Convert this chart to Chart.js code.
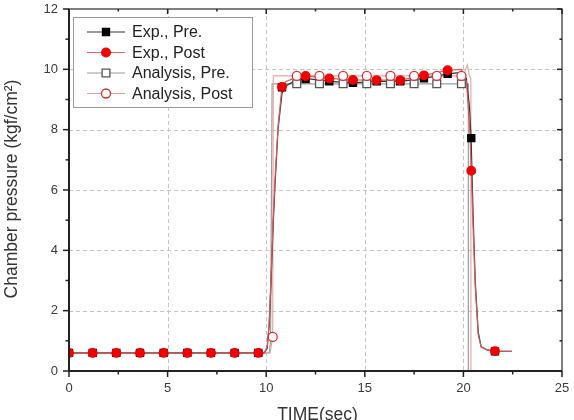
<!DOCTYPE html>
<html lang="en">
<head>
<meta charset="UTF-8">
<title>Chamber pressure</title>
<script src="https://cdn.jsdelivr.net/npm/chart.js"></script>
<style>
  html, body { margin: 0; padding: 0; background: #fff; }
  #wrap { width: 574px; height: 420px; position: relative; }
</style>
</head>
<body>
<div id="wrap"><canvas id="grafico" width="574" height="420"></canvas></div>
<script>
// ---- data ----
const xTicks = [0, 5, 10, 15, 20, 25]
const yTicks = [0, 2, 4, 6, 8, 10, 12]

// experiment, pre (black)
const expPreLineT = [0, 9.9, 10.05, 10.15, 10.25, 10.35, 10.45, 10.6, 10.8, 11.0, 11.4, 12.0, 13.2, 14.4, 15.6, 16.8, 18.0, 19.2, 19.9, 20.15, 20.3, 20.39, 20.5, 20.6, 20.75, 20.9, 21.2, 21.6, 22.45]
const expPreLineP = [0.6, 0.6, 0.75, 1.5, 3.0, 4.8, 6.2, 8.0, 9.2, 9.45, 9.6, 9.7, 9.6, 9.55, 9.6, 9.6, 9.7, 9.85, 9.9, 9.7, 8.8, 7.72, 5.0, 3.0, 1.3, 0.8, 0.7, 0.65, 0.65]
const expPreMarkT = [0, 1.2, 2.4, 3.6, 4.8, 6.0, 7.2, 8.4, 9.6, 10.8, 12.0, 13.2, 14.4, 15.6, 16.8, 18.0, 19.2, 20.4, 21.6]
const expPreMarkP = [0.6, 0.6, 0.6, 0.6, 0.6, 0.6, 0.6, 0.6, 0.6, 9.4, 9.68, 9.6, 9.55, 9.6, 9.6, 9.7, 9.85, 7.72, 0.65]

// experiment, post (red)
const expPostLineT = [0, 9.9, 10.05, 10.15, 10.25, 10.35, 10.45, 10.6, 10.8, 11.0, 11.4, 12.0, 13.2, 14.4, 15.6, 16.8, 18.0, 19.2, 19.9, 20.15, 20.3, 20.4, 20.5, 20.6, 20.75, 20.9, 21.2, 21.6, 22.45]
const expPostLineP = [0.6, 0.6, 0.8, 1.6, 3.2, 5.0, 6.4, 8.1, 9.42, 9.6, 9.7, 9.78, 9.7, 9.65, 9.64, 9.64, 9.8, 9.97, 10.0, 9.6, 8.3, 6.64, 4.6, 2.8, 1.2, 0.8, 0.7, 0.66, 0.65]
const expPostMarkT = [0, 1.2, 2.4, 3.6, 4.8, 6.0, 7.2, 8.4, 9.6, 10.8, 12.0, 13.2, 14.4, 15.6, 16.8, 18.0, 19.2, 20.4, 21.6]
const expPostMarkP = [0.6, 0.6, 0.6, 0.6, 0.6, 0.6, 0.6, 0.6, 0.6, 9.42, 9.78, 9.7, 9.65, 9.64, 9.64, 9.8, 9.97, 6.64, 0.66]

// analysis, pre (gray)
const anaPreLineT = [0, 10.15, 10.22, 10.3, 20.25, 20.25]
const anaPreLineP = [0.6, 0.6, 0.95, 9.52, 9.52, 0]
const anaPreMarkT = [11.55, 12.7, 13.9, 15.1, 16.3, 17.5, 18.65, 19.9]
const anaPreMarkP = [9.52, 9.52, 9.52, 9.52, 9.52, 9.52, 9.52, 9.52]

// analysis, post (pink)
const anaPostLineT = [0, 10.2, 10.33, 10.36, 20.0, 20.2, 20.3, 20.38, 20.38]
const anaPostLineP = [0.6, 0.6, 1.13, 9.78, 9.78, 10.15, 9.8, 9.7, 0]
const anaPostMarkT = [10.33, 11.55, 12.7, 13.9, 15.1, 16.3, 17.5, 18.65, 19.9]
const anaPostMarkP = [1.13, 9.78, 9.78, 9.78, 9.78, 9.78, 9.78, 9.78, 9.78]

const nomes = ['Exp., Pre.', 'Exp., Post', 'Analysis, Pre.', 'Analysis, Post']

function pares(t, p){
    return t.map((v, i) => ({x: v, y: p[i]}))
}

const FONTE = '"Liberation Sans", Arial, sans-serif'

// legend look, one entry per series
const estilos = [
    {linha: '#333333', estilo: 'rect', raio: 5, fundo: '#000000', borda: '#000000'},
    {linha: '#e06a6a', estilo: 'circle', raio: 4.3, fundo: '#f00000', borda: '#f00000'},
    {linha: '#999999', estilo: 'rect', raio: 5.5, fundo: '#ffffff', borda: '#555555'},
    {linha: '#e2a0a0', estilo: 'circle', raio: 4.5, fundo: '#ffffff', borda: '#d83030'}
]

// frame, dashed grid, tick marks, axis titles and legend
const moldura = {
    id: 'moldura',
    beforeDatasetsDraw(chart){
        const c = chart.ctx
        const a = chart.chartArea
        const sx = chart.scales.x
        const sy = chart.scales.y
        c.save()
        c.strokeStyle = '#c4c4c4'
        c.lineWidth = 1
        c.setLineDash([4, 3])
        xTicks.forEach(v => {
            if (v <= 0 || v >= 25) return
            const px = Math.round(sx.getPixelForValue(v)) + 0.5
            c.beginPath(); c.moveTo(px, a.top); c.lineTo(px, a.bottom); c.stroke()
        })
        yTicks.forEach(v => {
            if (v <= 0 || v >= 12) return
            const py = Math.round(sy.getPixelForValue(v)) + 0.5
            c.beginPath(); c.moveTo(a.left, py); c.lineTo(a.right, py); c.stroke()
        })
        c.restore()
    },
    afterDraw(chart){
        const c = chart.ctx
        const a = chart.chartArea
        const sx = chart.scales.x
        const sy = chart.scales.y
        c.save()
        // frame
        c.strokeStyle = '#555555'
        c.lineWidth = 1.5
        c.strokeRect(a.left, a.top, a.right - a.left, a.bottom - a.top)
        c.strokeStyle = '#222222'
        c.lineWidth = 2
        c.beginPath()
        c.moveTo(a.left, a.top); c.lineTo(a.left, a.bottom); c.lineTo(a.right, a.bottom)
        c.stroke()
        // tick marks
        c.lineWidth = 1.5
        for (let v = 0; v <= 25; v += 2.5){
            const px = sx.getPixelForValue(v)
            const len = (v % 5 === 0) ? 6 : 3.5
            c.beginPath(); c.moveTo(px, a.bottom); c.lineTo(px, a.bottom + len); c.stroke()
            c.beginPath(); c.moveTo(px, a.top); c.lineTo(px, a.top + len - 1); c.stroke()
        }
        for (let v = 0; v <= 12; v += 1){
            const py = sy.getPixelForValue(v)
            const len = (v % 2 === 0) ? 6 : 3.5
            c.beginPath(); c.moveTo(a.left, py); c.lineTo(a.left - len, py); c.stroke()
            c.beginPath(); c.moveTo(a.right, py); c.lineTo(a.right - len + 1, py); c.stroke()
        }
        // axis titles
        c.fillStyle = '#333333'
        c.font = '17.5px ' + FONTE
        c.textAlign = 'center'
        c.textBaseline = 'top'
        c.fillText('TIME(sec)', (a.left + a.right) / 2 + 2, 406)
        c.translate(12, 189)
        c.rotate(-Math.PI / 2)
        c.textBaseline = 'middle'
        c.fillText('Chamber pressure (kgf/cm²)', 0, 0)
        c.restore()

        // legend
        c.save()
        c.fillStyle = '#ffffff'
        c.fillRect(73.5, 17.5, 179, 90)
        c.strokeStyle = '#9a9a9a'
        c.lineWidth = 1
        c.strokeRect(73.5, 17.5, 179, 90)
        const linhasY = [32, 52.5, 73, 93.5]
        nomes.forEach((nome, i) => {
            const e = estilos[i]
            const y = linhasY[i]
            c.strokeStyle = e.linha
            c.lineWidth = 1.2
            c.beginPath(); c.moveTo(87, y); c.lineTo(125, y); c.stroke()
            c.fillStyle = e.fundo
            c.strokeStyle = e.borda
            c.lineWidth = 1.3
            c.beginPath()
            if (e.estilo === 'circle') {
                c.arc(106, y, e.raio, 0, Math.PI * 2)
            } else {
                const s = e.raio * Math.SQRT1_2
                c.rect(106 - s, y - s, 2 * s, 2 * s)
            }
            c.fill(); c.stroke()
            c.fillStyle = '#222222'
            c.font = '16px ' + FONTE
            c.textAlign = 'left'
            c.textBaseline = 'middle'
            c.fillText(nome, 132, y + 1)
        })
        c.restore()
    }
}

function serieLinha(t, p, cor){
    return {
        data: pares(t, p),
        showLine: true,
        borderColor: cor,
        borderWidth: 1.2,
        pointRadius: 0,
        pointHoverRadius: 0,
        tension: 0
    }
}

function serieMarca(t, p, e){
    return {
        data: pares(t, p),
        showLine: false,
        pointStyle: e.estilo,
        pointRadius: e.raio,
        pointHoverRadius: e.raio,
        pointBackgroundColor: e.fundo,
        pointBorderColor: e.borda,
        pointBorderWidth: 1.3
    }
}

const ctx = document.getElementById('grafico')

const grafico = new Chart(ctx, {
    type: 'scatter',
    data: {
        // first dataset is drawn on top
        datasets: [
            serieMarca(expPostMarkT, expPostMarkP, estilos[1]),
            serieMarca(expPreMarkT, expPreMarkP, estilos[0]),
            serieMarca(anaPostMarkT, anaPostMarkP, estilos[3]),
            serieMarca(anaPreMarkT, anaPreMarkP, estilos[2]),
            serieLinha(expPostLineT, expPostLineP, '#d85a5a'),
            serieLinha(expPreLineT, expPreLineP, '#333333'),
            serieLinha(anaPostLineT, anaPostLineP, '#e8a8a8'),
            serieLinha(anaPreLineT, anaPreLineP, '#9c9c9c')
        ]
    },
    options: {
        responsive: false,
        animation: false,
        devicePixelRatio: 1,
        layout: { padding: { left: 0, right: 12, top: 9, bottom: 0 } },
        plugins: {
            legend: { display: false },
            tooltip: { enabled: false }
        },
        scales: {
            x: {
                type: 'linear',
                min: 0,
                max: 25,
                afterFit: s => {
                    s.height = 49
                    s.paddingLeft = 0
                    s.paddingRight = 0
                },
                afterBuildTicks: s => { s.ticks = xTicks.map(v => ({value: v})) },
                grid: { display: false, drawTicks: false },
                border: { display: false },
                ticks: {
                    padding: 10,
                    color: '#3a3a3a',
                    font: { family: FONTE, size: 13 },
                    autoSkip: false,
                    maxRotation: 0
                }
            },
            y: {
                type: 'linear',
                min: 0,
                max: 12,
                afterFit: s => {
                    s.width = 69
                    s.paddingTop = 0
                    s.paddingBottom = 0
                },
                afterBuildTicks: s => { s.ticks = yTicks.map(v => ({value: v})) },
                grid: { display: false, drawTicks: false },
                border: { display: false },
                ticks: {
                    padding: 11,
                    color: '#3a3a3a',
                    font: { family: FONTE, size: 13 },
                    autoSkip: false
                }
            }
        }
    },
    plugins: [moldura]
})
</script>
</body>
</html>
